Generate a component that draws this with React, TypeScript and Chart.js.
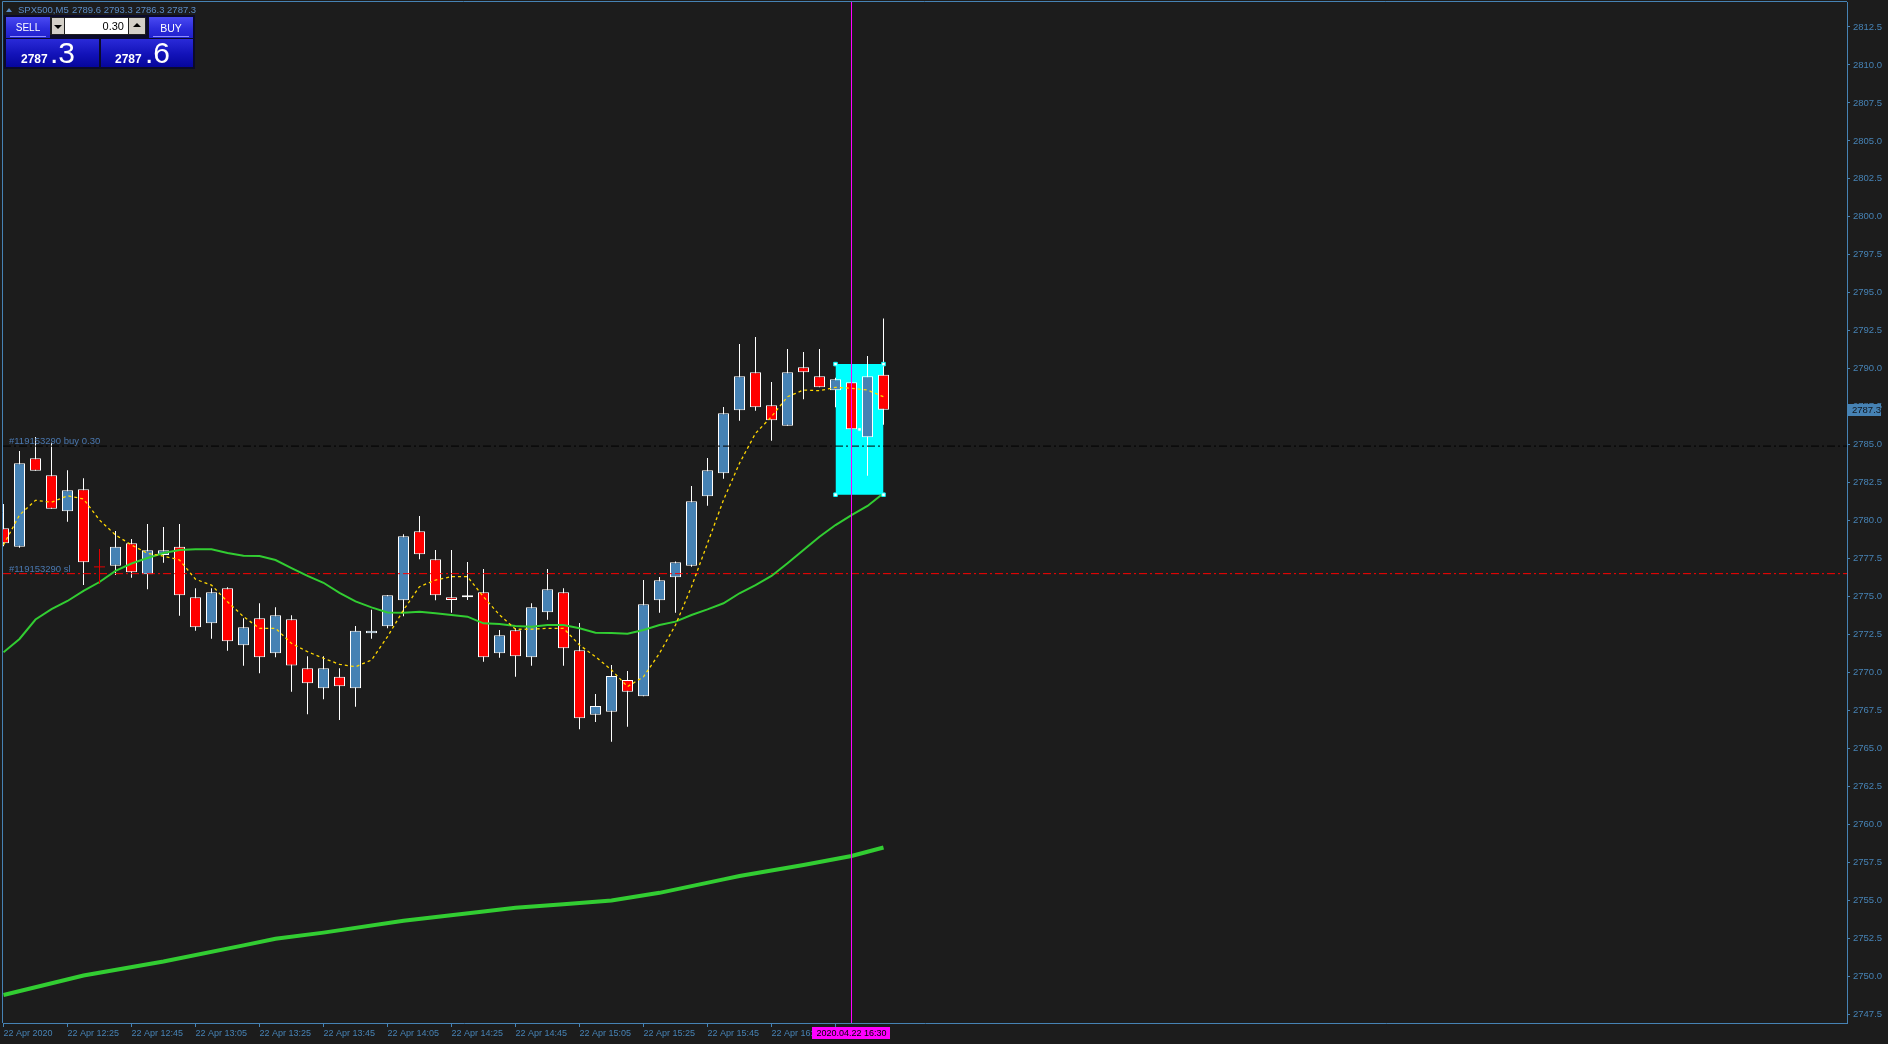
import React, { useEffect, useRef } from "react";
import { Chart, registerables } from "chart.js";

Chart.register(...registerables);

const FONT = "'Liberation Sans', Arial, sans-serif";
const BG = "#1c1c1c";
const AXIS = "#4682B4";
const BULL = "#4682B4";
const BEAR = "#FF0000";

// ---- data (M5 bars, 22 Apr 2020) ----
const barTimes = ["12:05","12:10","12:15","12:20","12:25","12:30","12:35","12:40","12:45","12:50","12:55","13:00","13:05","13:10","13:15","13:20","13:25","13:30","13:35","13:40","13:45","13:50","13:55","14:00","14:05","14:10","14:15","14:20","14:25","14:30","14:35","14:40","14:45","14:50","14:55","15:00","15:05","15:10","15:15","15:20","15:25","15:30","15:35","15:40","15:45","15:50","15:55","16:00","16:05","16:10","16:15","16:20","16:25","16:30","16:35","16:40"];

const openPrices = [2779.49, 2778.28, 2784.10, 2782.98, 2780.61, 2782.06, null, 2777.02, 2778.50, 2776.46, 2777.73, 2778.28, 2774.94, 2773.23, 2775.54, 2771.78, 2773.56, 2771.26, 2773.49, 2770.27, 2768.95, 2769.71, 2768.95, 2772.57, 2773.03, 2774.75, 2779.29, 2777.45, 2774.94, 2774.94, 2775.27, 2771.26, 2772.77, 2770.99, 2773.96, 2775.27, 2771.45, 2767.21, 2767.41, 2769.50, 2768.42, 2774.75, 2776.26, 2777.02, 2781.59, 2783.11, 2787.26, 2789.76, 2787.59, 2786.24, 2790.09, 2789.50, 2788.57, 2789.10, 2785.48, 2789.60];
const highPrices = [2781.09, 2784.58, 2785.50, 2785.12, 2783.31, 2782.78, null, 2779.31, 2778.78, 2779.77, 2779.57, 2779.77, 2775.54, 2775.54, 2775.60, 2773.56, 2774.55, 2774.28, 2773.76, 2771.06, 2771.06, 2770.27, 2773.05, 2774.13, 2775.10, 2779.09, 2780.30, 2778.06, 2778.06, 2777.27, 2776.81, 2772.79, 2772.90, 2774.55, 2776.81, 2775.54, 2773.25, 2768.58, 2770.48, 2770.09, 2776.08, 2776.28, 2777.30, 2782.27, 2784.12, 2787.48, 2791.62, 2792.09, 2789.12, 2791.29, 2791.10, 2791.29, 2789.40, 2789.30, 2790.83, 2793.30];
const lowPrices = [2778.30, 2778.20, 2783.28, 2780.78, 2779.92, 2775.75, null, 2776.41, 2776.23, 2775.47, 2777.22, 2773.73, 2772.74, 2772.22, 2771.43, 2770.44, 2769.94, 2770.99, 2768.73, 2767.24, 2768.23, 2766.86, 2767.74, 2772.22, 2772.90, 2773.69, 2777.45, 2774.75, 2773.93, 2774.77, 2770.70, 2770.97, 2769.71, 2770.44, 2773.47, 2770.44, 2766.25, 2766.73, 2765.43, 2766.42, 2768.42, 2773.93, 2773.93, 2776.95, 2780.98, 2782.75, 2786.57, 2787.23, 2785.26, 2786.24, 2787.98, 2788.77, 2787.46, 2786.00, 2782.95, 2786.30];
const closePrices = [2778.50, 2783.77, 2783.28, 2780.78, 2781.99, 2777.25, null, 2778.28, 2776.59, 2778.04, 2778.04, 2775.07, 2772.97, 2775.27, 2772.05, 2772.97, 2770.99, 2773.76, 2770.46, 2769.28, 2770.27, 2769.08, 2772.74, 2772.74, 2775.07, 2778.96, 2777.77, 2775.07, 2774.77, 2775.07, 2770.99, 2772.44, 2771.06, 2774.28, 2775.47, 2771.58, 2766.97, 2767.78, 2769.76, 2768.73, 2774.48, 2776.06, 2777.25, 2781.27, 2783.31, 2787.06, 2789.50, 2787.46, 2786.60, 2789.76, 2789.76, 2788.77, 2789.30, 2786.01, 2789.50, 2787.30];

const fastMA = [2778.39, 2780.36, 2781.33, 2781.20, 2781.63, 2781.42, 2780.03, 2779.05, 2778.39, 2777.84, 2777.66, 2777.40, 2776.13, 2775.75, 2774.65, 2773.67, 2772.90, 2772.90, 2771.91, 2771.36, 2770.93, 2770.53, 2770.37, 2770.81, 2772.35, 2774.11, 2775.64, 2776.08, 2776.30, 2776.30, 2774.98, 2773.78, 2772.84, 2772.84, 2772.90, 2772.90, 2771.80, 2771.03, 2770.16, 2769.06, 2769.71, 2771.26, 2773.12, 2775.64, 2778.50, 2781.35, 2783.77, 2785.74, 2786.84, 2788.15, 2788.59, 2788.55, 2788.77, 2788.71, 2788.59, 2788.15];
const midMA = [2771.32, 2772.20, 2773.48, 2774.17, 2774.70, 2775.36, 2775.95, 2776.68, 2777.17, 2777.53, 2777.86, 2778.06, 2778.10, 2778.10, 2777.86, 2777.68, 2777.66, 2777.40, 2776.87, 2776.35, 2775.90, 2775.23, 2774.67, 2774.28, 2773.94, 2773.93, 2773.99, 2773.89, 2773.78, 2773.67, 2773.23, 2773.18, 2773.05, 2773.01, 2773.12, 2773.12, 2772.90, 2772.61, 2772.59, 2772.55, 2772.79, 2773.12, 2773.34, 2773.78, 2774.15, 2774.55, 2775.21, 2775.75, 2776.35, 2777.18, 2778.06, 2778.93, 2779.70, 2780.36, 2780.96, 2781.79];
// slow MA read at a subset of bars
const slowMABar = [0, 5, 10, 15, 17, 20, 25, 30, 32, 35, 38, 41, 45, 46, 50, 53, 55];
const slowMAValue = [2748.75, 2750.04, 2750.96, 2752.02, 2752.46, 2752.86, 2753.64, 2754.25, 2754.50, 2754.73, 2754.98, 2755.48, 2756.37, 2756.59, 2757.31, 2757.91, 2758.47];

const xTickBars = [0, 4, 8, 12, 16, 20, 24, 28, 32, 36, 40, 44, 48, 52];
const xTickLabels = ["22 Apr 2020", "22 Apr 12:25", "22 Apr 12:45", "22 Apr 13:05", "22 Apr 13:25", "22 Apr 13:45", "22 Apr 14:05", "22 Apr 14:25", "22 Apr 14:45", "22 Apr 15:05", "22 Apr 15:25", "22 Apr 15:45", "22 Apr 16:05", "22 Apr 16:25"];
const yTickValues = [2747.5, 2750.0, 2752.5, 2755.0, 2757.5, 2760.0, 2762.5, 2765.0, 2767.5, 2770.0, 2772.5, 2775.0, 2777.5, 2780.0, 2782.5, 2785.0, 2787.5, 2790.0, 2792.5, 2795.0, 2797.5, 2800.0, 2802.5, 2805.0, 2807.5, 2810.0, 2812.5];

const buyPrice = 2784.9;
const slPrice = 2776.5;
const buyLabel = "#119153290 buy 0.30";
const slLabel = "#119153290 sl";
const boxBars = [52, 55];
const boxTop = 2790.3;
const boxBottom = 2781.7;
const crossBar = 6;
const crossPrice = 2776.95;
const cursorBar = 53;
const cursorLabel = "2020.04.22 16:30";
const lastPrice = 2787.3;
const headerSymbol = "SPX500,M5";
const headerOHLC = "2789.6 2793.3 2786.3 2787.3";

const X_MIN = -0.03125;
const X_MAX = 115.21875;
const Y_MIN = 2746.909;
const Y_MAX = 2814.146;

export default function App() {
  const canvasRef = useRef<HTMLCanvasElement | null>(null);

  useEffect(() => {
    document.body.style.margin = "0";
    document.body.style.background = BG;
    const canvas = canvasRef.current;
    if (!canvas) return;
    Chart.defaults.font.family = FONT;

    const bars = barTimes.map((_, i) => i).filter((i) => openPrices[i] !== null);
    const isBull = (i: number) => (closePrices[i] as number) >= (openPrices[i] as number);

    const cross = document.createElement("canvas");
    cross.width = 11;
    cross.height = 35;
    const cc = cross.getContext("2d")!;
    cc.fillStyle = "#E00000";
    cc.fillRect(5, 0, 1, 35);
    cc.fillRect(0, 17, 11, 1);

    const overlay = {
      id: "mt4overlay",
      beforeDraw(chart: any) {
        const { ctx } = chart;
        ctx.save();
        ctx.fillStyle = BG;
        ctx.fillRect(0, 0, chart.width, chart.height);
        ctx.restore();
      },
      afterDatasetsDraw(chart: any) {
        const { ctx, chartArea: a, scales } = chart;
        const ys = scales.y;
        ctx.save();
        ctx.font = `9.5px ${FONT}`;
        ctx.fillStyle = "#4a78b0";
        ctx.textBaseline = "alphabetic";
        ctx.textAlign = "left";
        ctx.fillText(buyLabel, a.left + 6, Math.round(ys.getPixelForValue(buyPrice)) - 2);
        ctx.fillText(slLabel, a.left + 6, Math.round(ys.getPixelForValue(slPrice)) - 2);
        ctx.restore();
      },
      afterDraw(chart: any) {
        const { ctx, chartArea: a, scales } = chart;
        const ys = scales.y;
        const xs = scales.x;
        ctx.save();
        ctx.strokeStyle = AXIS;
        ctx.lineWidth = 1;
        ctx.beginPath();
        ctx.moveTo(2.5, a.bottom);
        ctx.lineTo(2.5, 1.5);
        ctx.lineTo(a.right, 1.5);
        ctx.stroke();
        // current price tag
        const py = Math.round(ys.getPixelForValue(lastPrice));
        ctx.fillStyle = AXIS;
        ctx.fillRect(a.right + 1, py - 6, 33, 12);
        ctx.fillStyle = "#10161e";
        ctx.font = `9.5px ${FONT}`;
        ctx.textBaseline = "middle";
        ctx.textAlign = "left";
        ctx.fillText(lastPrice.toFixed(1), a.right + 5, py + 0.5);
        // cursor time tag
        ctx.font = `9px ${FONT}`;
        const tx = xs.getPixelForValue(cursorBar);
        const tw = ctx.measureText(cursorLabel).width;
        ctx.fillStyle = "#FF00FF";
        ctx.fillRect(Math.round(tx - tw / 2 - 4), a.bottom + 4, Math.round(tw + 8), 12);
        ctx.fillStyle = "#000000";
        ctx.textAlign = "center";
        ctx.fillText(cursorLabel, tx, a.bottom + 10.5);
        ctx.restore();
      },
    };

    const line = (extra: any) => ({
      type: "line",
      pointRadius: 0,
      tension: 0,
      clip: 0,
      fill: false,
      ...extra,
    });

    const chart = new Chart(canvas, {
      type: "line",
      data: {
        datasets: [
          line({
            label: "box",
            data: [{ x: boxBars[0], y: boxTop }, { x: boxBars[1], y: boxTop }],
            fill: { value: boxBottom },
            backgroundColor: "#00FFFF",
            borderColor: "#00FFFF",
            borderWidth: 0,
            order: 20,
          }),
          {
            type: "bar",
            label: "wicks",
            data: bars.map((i) => ({ x: i, y: [lowPrices[i], highPrices[i]] })),
            backgroundColor: "#FFFFFF",
            borderWidth: 0,
            barThickness: 1,
            grouped: false,
            inflateAmount: 0,
            clip: 0,
            order: 19,
          },
          {
            type: "bar",
            label: "bodies",
            data: bars.map((i) => ({ x: i, y: [openPrices[i], closePrices[i]] })),
            backgroundColor: bars.map((i) => (isBull(i) ? BULL : BEAR)),
            borderColor: "#FFFFFF",
            borderWidth: 1,
            borderSkipped: false,
            barThickness: 11,
            grouped: false,
            inflateAmount: 0,
            clip: 0,
            order: 18,
          },
          line({
            label: "buy",
            data: [{ x: X_MIN, y: buyPrice }, { x: X_MAX, y: buyPrice }],
            borderColor: "#000000",
            borderWidth: 1,
            borderDash: [8, 3, 2, 3],
            order: 15,
          }),
          line({
            label: "sl",
            data: [{ x: X_MIN, y: slPrice }, { x: X_MAX, y: slPrice }],
            borderColor: "#FF0000",
            borderWidth: 1,
            borderDash: [8, 3, 2, 3],
            order: 14,
          }),
          line({
            label: "slow MA",
            data: slowMABar.map((b, k) => ({ x: b, y: slowMAValue[k] })),
            borderColor: "#32CD32",
            borderWidth: 4,
            order: 12,
          }),
          line({
            label: "mid MA",
            data: midMA.map((v, i) => ({ x: i, y: v })),
            borderColor: "#32CD32",
            borderWidth: 2,
            order: 11,
          }),
          line({
            label: "fast MA",
            data: fastMA.map((v, i) => ({ x: i, y: v })),
            borderColor: "#FFD700",
            borderWidth: 1.3,
            borderDash: [3, 3],
            order: 10,
          }),
          line({
            label: "cross",
            data: [{ x: crossBar, y: crossPrice }],
            showLine: false,
            pointRadius: 6,
            pointStyle: cross,
            order: 9,
          }),
          line({
            label: "cursor",
            data: [{ x: cursorBar, y: Y_MIN }, { x: cursorBar, y: Y_MAX }],
            borderColor: "#FF00FF",
            borderWidth: 1,
            order: 5,
          }),
          line({
            label: "handles",
            data: [
              { x: boxBars[0], y: boxTop },
              { x: boxBars[1], y: boxTop },
              { x: boxBars[0], y: boxBottom },
              { x: boxBars[1], y: boxBottom },
              { x: (boxBars[0] + boxBars[1]) / 2, y: (boxTop + boxBottom) / 2 },
            ],
            showLine: false,
            pointRadius: 2.5,
            pointStyle: "rect",
            pointBackgroundColor: "#FFFFFF",
            pointBorderColor: "#00FFFF",
            pointBorderWidth: 1,
            order: 1,
          }),
        ] as any,
      },
      options: {
        responsive: false,
        maintainAspectRatio: false,
        animation: false,
        devicePixelRatio: 1,
        events: [],
        layout: { autoPadding: false, padding: { left: 3, top: 2, right: 0, bottom: 0 } },
        plugins: {
          legend: { display: false },
          tooltip: { enabled: false },
        },
        scales: {
          x: {
            type: "linear",
            position: "bottom",
            min: X_MIN,
            max: X_MAX,
            offset: false,
            afterFit: (s: any) => {
              s.height = 21;
              s.paddingLeft = 0;
              s.paddingRight = 0;
              s.paddingTop = 0;
              s.paddingBottom = 0;
            },
            afterBuildTicks: (s: any) => {
              s.ticks = xTickBars.map((v) => ({ value: v }));
            },
            grid: {
              display: true,
              drawOnChartArea: false,
              drawTicks: true,
              tickLength: 4,
              tickColor: AXIS,
              offset: false,
            },
            border: { display: true, color: AXIS, width: 1 },
            ticks: {
              autoSkip: false,
              maxRotation: 0,
              minRotation: 0,
              align: "start",
              padding: 1,
              color: AXIS,
              font: { size: 9, family: FONT },
              callback: (v: any) => {
                const k = xTickBars.indexOf(Number(v));
                return k >= 0 ? xTickLabels[k] : "";
              },
            },
          },
          y: {
            type: "linear",
            position: "right",
            min: Y_MIN,
            max: Y_MAX,
            beginAtZero: false,
            afterFit: (s: any) => {
              s.width = 41;
              s.paddingLeft = 0;
              s.paddingRight = 0;
              s.paddingTop = 0;
              s.paddingBottom = 0;
            },
            afterBuildTicks: (s: any) => {
              s.ticks = yTickValues.map((v) => ({ value: v }));
            },
            grid: {
              display: true,
              drawOnChartArea: false,
              drawTicks: true,
              tickLength: 3,
              tickColor: AXIS,
            },
            border: { display: true, color: AXIS, width: 1 },
            ticks: {
              padding: 3,
              color: AXIS,
              font: { size: 9.5, family: FONT },
              callback: (v: any) => Number(v).toFixed(1),
            },
          },
        },
      } as any,
      plugins: [overlay as any],
    } as any);

    return () => chart.destroy();
  }, []);

  const btnBg = "linear-gradient(180deg, #4a4af2 0%, #2c2cdc 55%, #2020cc 100%)";
  const boxBg = "linear-gradient(180deg, #2a2ad8 0%, #1212b8 55%, #06069c 100%)";
  const grey = "#d4d0c8";

  return (
    <div style={{ position: "fixed", left: 0, top: 0, width: 1888, height: 1044, background: BG, overflow: "hidden" }}>
      <canvas ref={canvasRef} width={1888} height={1044} style={{ position: "absolute", left: 0, top: 0, width: 1888, height: 1044 }} />
      {/* header */}
      <div style={{ position: "absolute", left: 6, top: 8, width: 0, height: 0, borderLeft: "3px solid transparent", borderRight: "3px solid transparent", borderBottom: "4px solid #5b8cc6" }} />
      <div style={{ position: "absolute", left: 18, top: 4, font: `9.5px ${FONT}`, lineHeight: "11px", color: "#5b8cc6", whiteSpace: "pre" }}>{headerSymbol}</div>
      <div style={{ position: "absolute", left: 72, top: 4, font: `9.5px ${FONT}`, lineHeight: "11px", color: "#5b8cc6", whiteSpace: "pre" }}>{headerOHLC}</div>
      {/* trade panel */}
      <div style={{ position: "absolute", left: 4, top: 15, width: 191, height: 54, background: "#0b0b2a" }} />
      <div style={{ position: "absolute", left: 6, top: 17, width: 44, height: 21, background: btnBg }}>
        <div style={{ position: "absolute", left: 0, top: 6, width: 44, textAlign: "center", font: `10px ${FONT}`, lineHeight: "10px", color: "#ffffff" }}>SELL</div>
        <div style={{ position: "absolute", left: 4, top: 19, width: 36, height: 1, background: "#8e8eff" }} />
      </div>
      <div style={{ position: "absolute", left: 50, top: 17, width: 96, height: 18, background: "#202020" }} />
      <div style={{ position: "absolute", left: 52, top: 18, width: 12, height: 16, background: grey }}>
        <div style={{ position: "absolute", left: 2, top: 7, width: 0, height: 0, borderLeft: "4px solid transparent", borderRight: "4px solid transparent", borderTop: "4px solid #000" }} />
      </div>
      <div style={{ position: "absolute", left: 65, top: 18, width: 63, height: 16, background: "#ffffff" }}>
        <div style={{ position: "absolute", right: 4, top: 2, font: `11px ${FONT}`, lineHeight: "12px", color: "#000" }}>0.30</div>
      </div>
      <div style={{ position: "absolute", left: 129, top: 18, width: 16, height: 16, background: grey }}>
        <div style={{ position: "absolute", left: 4, top: 5, width: 0, height: 0, borderLeft: "4px solid transparent", borderRight: "4px solid transparent", borderBottom: "4px solid #000" }} />
      </div>
      <div style={{ position: "absolute", left: 149, top: 17, width: 44, height: 21, background: btnBg }}>
        <div style={{ position: "absolute", left: 0, top: 6, width: 44, textAlign: "center", font: `10.5px ${FONT}`, lineHeight: "10px", color: "#ffffff" }}>BUY</div>
        <div style={{ position: "absolute", left: 4, top: 19, width: 36, height: 1, background: "#8e8eff" }} />
      </div>
      <div style={{ position: "absolute", left: 6, top: 39, width: 93, height: 28, background: boxBg }} />
      <div style={{ position: "absolute", left: 101, top: 39, width: 92, height: 28, background: boxBg }} />
      <div style={{ position: "absolute", left: 21, top: 53, font: `bold 12px ${FONT}`, lineHeight: "12px", color: "#fff" }}>2787</div>
      <div style={{ position: "absolute", left: 50, top: 38, font: `30px ${FONT}`, lineHeight: "30px", color: "#fff" }}>.3</div>
      <div style={{ position: "absolute", left: 115, top: 53, font: `bold 12px ${FONT}`, lineHeight: "12px", color: "#fff" }}>2787</div>
      <div style={{ position: "absolute", left: 145, top: 38, font: `30px ${FONT}`, lineHeight: "30px", color: "#fff" }}>.6</div>
    </div>
  );
}
